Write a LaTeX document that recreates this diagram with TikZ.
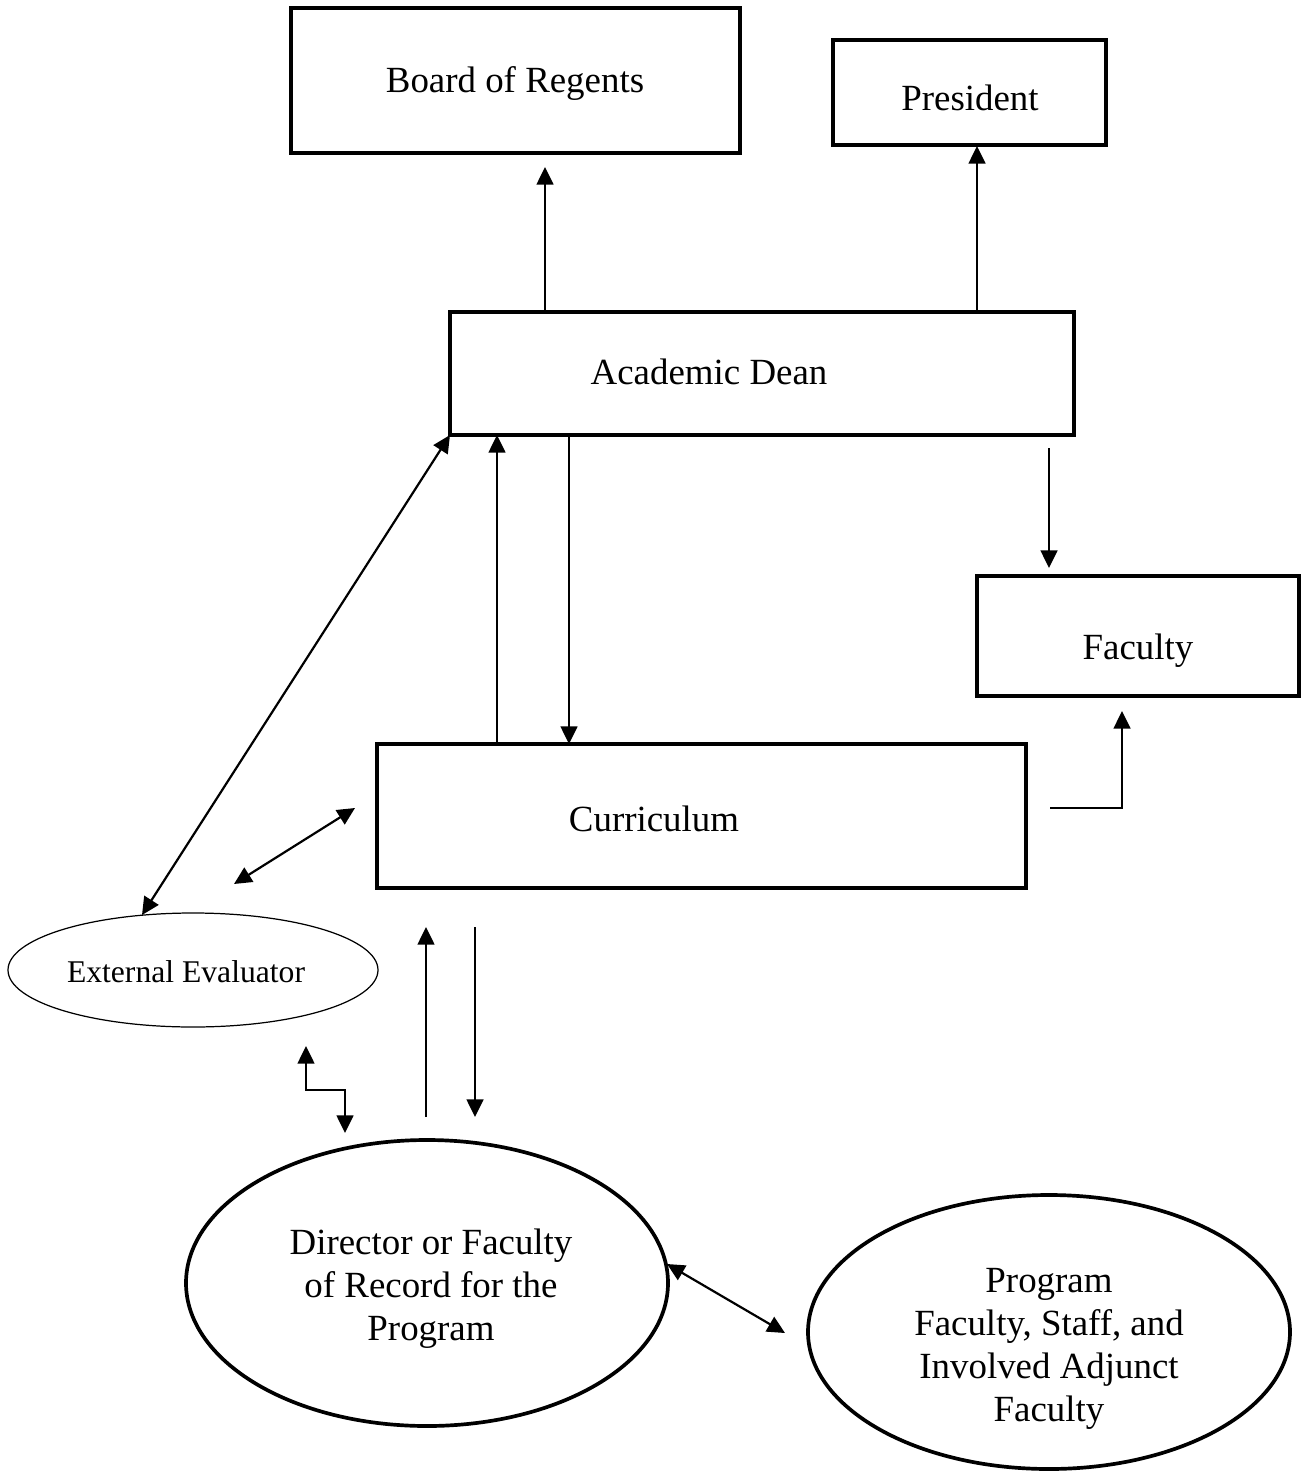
\documentclass[tikz,border=0pt]{standalone}
\usepackage{fontspec}
\setmainfont{Liberation Serif}
\usetikzlibrary{arrows.meta}
\begin{document}
\begin{tikzpicture}[x=0.02cm,y=-0.02cm,
  box/.style={draw,line width=2.1pt,inner sep=0pt},
  lbl/.style={font=\fontsize{21}{24.4}\selectfont,align=center,inner sep=0pt},
  conn/.style={line width=1.25pt,-{Triangle[length=10pt,width=9.5pt]}},
  dconn/.style={line width=1.25pt,{Triangle[length=10pt,width=9.5pt]}-{Triangle[length=10pt,width=9.5pt]}},
  plain/.style={line width=1.25pt}]
\useasboundingbox (0,0) rectangle (1303,1476);
% boxes
\node[box,minimum width=449*0.02cm,minimum height=145*0.02cm] (board) at (515.5,80.5) {};
\node[lbl] (boardt) at (515,83) {Board of Regents};
\node[box,minimum width=273*0.02cm,minimum height=105*0.02cm] (pres) at (969.5,92.5) {};
\node[lbl] (prest) at (970,98) {President};
\node[box,minimum width=624*0.02cm,minimum height=123*0.02cm] (dean) at (762,373.5) {};
\node[lbl] (deant) at (709,372) {Academic Dean};
\node[box,minimum width=322*0.02cm,minimum height=120*0.02cm] (fac) at (1138,636) {};
\node[lbl] (fact) at (1138,651) {Faculty};
\node[box,minimum width=649*0.02cm,minimum height=144*0.02cm] (curr) at (701.5,816) {};
\node[lbl] (currt) at (654,819) {Curriculum};
% ellipses
\draw[line width=0.7pt] (193,970) ellipse [x radius=185, y radius=57];
\node[font=\fontsize{18}{21}\selectfont,inner sep=0pt] (ext) at (186,972) {External Evaluator};
\draw[line width=2.1pt] (427,1283) ellipse [x radius=241, y radius=143];
\node[lbl] (dir) at (431,1289) {Director or Faculty\\of Record for the\\Program};
\draw[line width=2.1pt] (1049,1332) ellipse [x radius=241, y radius=137];
\node[lbl] (prog) at (1049,1349) {Program\\Faculty, Staff, and\\Involved Adjunct\\Faculty};
% anchor coordinates
\coordinate (a1s) at (545,311); \coordinate (a1e) at (545,167);
\coordinate (a2s) at (977,311); \coordinate (a2e) at (977,146);
\coordinate (a3s) at (1049,448); \coordinate (a3e) at (1049,568);
\coordinate (a4s) at (497,744); \coordinate (a4e) at (497,435);
\coordinate (a5s) at (569,435); \coordinate (a5e) at (569,744);
\coordinate (d1s) at (142,915); \coordinate (d1e) at (450,435);
\coordinate (d2s) at (234,884); \coordinate (d2e) at (355,808);
\coordinate (f1) at (1050,808); \coordinate (f2) at (1122,808); \coordinate (f3) at (1122,711);
\coordinate (u1s) at (426,1117); \coordinate (u1e) at (426,927);
\coordinate (u2s) at (475,927); \coordinate (u2e) at (475,1117);
\coordinate (s1) at (306,1046); \coordinate (s2) at (306,1090); \coordinate (s3) at (345,1090); \coordinate (s4) at (345,1133);
\coordinate (d3s) at (667,1264); \coordinate (d3e) at (785,1333);
% connectors
\draw[conn] (a1s) -- (a1e);
\draw[conn] (a2s) -- (a2e);
\draw[conn] (a3s) -- (a3e);
\draw[conn] (a4s) -- (a4e);
\draw[conn] (a5s) -- (a5e);
\draw[dconn] (d1s) -- (d1e);
\draw[dconn] (d2s) -- (d2e);
\draw[conn] (f1) -- (f2) -- (f3);
\draw[conn] (u1s) -- (u1e);
\draw[conn] (u2s) -- (u2e);
\draw[dconn] (s1) -- (s2) -- (s3) -- (s4);
\draw[dconn] (d3s) -- (d3e);
\end{tikzpicture}
\end{document}
